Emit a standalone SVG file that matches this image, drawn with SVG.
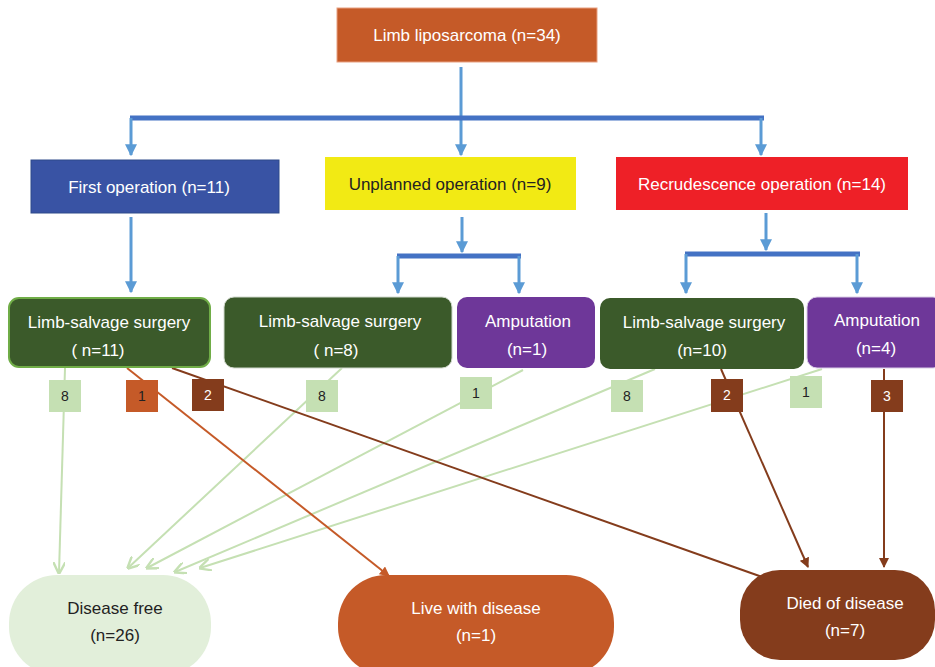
<svg xmlns="http://www.w3.org/2000/svg" width="935" height="667" viewBox="0 0 935 667">
<style>
text{font-family:"Liberation Sans",Arial,sans-serif;font-size:17px;text-anchor:middle}
.w{fill:#fff}.d{fill:#222}
.n{font-size:14px}
.blue{stroke:#5B9BD5;stroke-width:3;fill:none}
.bar{stroke:#4472C4;stroke-width:5;fill:none}
.g{stroke:#C5E0B3;stroke-width:2;fill:none}
.o{stroke:#C55A28;stroke-width:2;fill:none}
.b{stroke:#843C1C;stroke-width:2;fill:none}
.lg{fill:#C5E0B3}.lo{fill:#C55A28}.lb{fill:#843C1C}
</style>
<defs>
<marker id="ab" viewBox="0 0 10 10" refX="9" refY="5" markerWidth="4" markerHeight="4" orient="auto" markerUnits="strokeWidth"><path d="M0,0L10,5L0,10z" fill="#5B9BD5"/></marker>
<marker id="ag" viewBox="0 0 10 10" refX="9" refY="5" markerWidth="6" markerHeight="6" orient="auto" markerUnits="strokeWidth"><path d="M0,0L10,5L0,10" fill="none" stroke="#C5E0B3" stroke-width="2"/></marker>
<marker id="ao" viewBox="0 0 10 10" refX="9" refY="5" markerWidth="5" markerHeight="5" orient="auto" markerUnits="strokeWidth"><path d="M0,0L10,5L0,10z" fill="#C55A28"/></marker>
<marker id="abr" viewBox="0 0 10 10" refX="9" refY="5" markerWidth="5" markerHeight="5" orient="auto" markerUnits="strokeWidth"><path d="M0,0L10,5L0,10z" fill="#843C1C"/></marker>
</defs>

<g id="connectors">
<line class="blue" x1="461" y1="67" x2="461" y2="155" marker-end="url(#ab)"/>
<line class="bar" x1="130" y1="118" x2="764" y2="118"/>
<line class="blue" x1="131" y1="118" x2="131" y2="155" marker-end="url(#ab)"/>
<line class="blue" x1="761" y1="118" x2="761" y2="155" marker-end="url(#ab)"/>
<line class="blue" x1="131" y1="217" x2="131" y2="292" marker-end="url(#ab)"/>
<line class="blue" x1="462" y1="217" x2="462" y2="252" marker-end="url(#ab)"/>
<line class="bar" x1="397" y1="256" x2="521" y2="256"/>
<line class="blue" x1="398" y1="256" x2="398" y2="293" marker-end="url(#ab)"/>
<line class="blue" x1="519" y1="256" x2="519" y2="293" marker-end="url(#ab)"/>
<line class="blue" x1="766" y1="213" x2="766" y2="250" marker-end="url(#ab)"/>
<line class="bar" x1="685" y1="254" x2="860" y2="254"/>
<line class="blue" x1="686" y1="254" x2="686" y2="293" marker-end="url(#ab)"/>
<line class="blue" x1="857" y1="254" x2="857" y2="293" marker-end="url(#ab)"/>

<line class="g" x1="65" y1="368" x2="59" y2="573" marker-end="url(#ag)"/>
<line class="g" x1="342" y1="368" x2="128" y2="568" marker-end="url(#ag)"/>
<line class="g" x1="523" y1="370" x2="147" y2="568" marker-end="url(#ag)"/>
<line class="g" x1="655" y1="369" x2="175" y2="572" marker-end="url(#ag)"/>
<line class="g" x1="822" y1="369" x2="200" y2="568" marker-end="url(#ag)"/>
<line class="o" x1="127" y1="368" x2="389" y2="576" marker-end="url(#ao)"/>
<line class="b" x1="172" y1="368" x2="765" y2="578"/>
<line class="b" x1="721" y1="369" x2="808" y2="567" marker-end="url(#abr)"/>
<line class="b" x1="884" y1="369" x2="884" y2="567" marker-end="url(#abr)"/>
</g>

<g id="n-root"><rect x="337" y="8" width="260" height="54" fill="#C55A28" stroke="#E8A080" stroke-width="1"/><text class="w" x="467" y="41">Limb liposarcoma (n=34)</text></g>
<g id="n-first"><rect x="31" y="160" width="248" height="53" fill="#3953A4" stroke="#2F4A8A" stroke-width="1"/><text class="w" x="149" y="193">First operation (n=11)</text></g>
<g id="n-unplanned"><rect x="325" y="157" width="251" height="53" fill="#F2EA14"/><text class="d" x="450" y="190">Unplanned operation (n=9)</text></g>
<g id="n-recur"><rect x="616" y="157" width="292" height="53" fill="#EE2027"/><text class="w" x="762" y="190">Recrudescence operation (n=14)</text></g>

<g id="n-lss1"><rect x="9" y="298" width="201" height="69" rx="10" fill="#3B5A2A" stroke="#70AD47" stroke-width="2"/><text class="w" x="109" y="328">Limb-salvage surgery</text><text class="w" x="98" y="356">( n=11)</text></g>
<g id="n-lss2"><rect x="224" y="297" width="228" height="71" rx="10" fill="#3B5A2A" stroke="#D0D8CC" stroke-width="1"/><text class="w" x="340" y="327">Limb-salvage surgery</text><text class="w" x="336" y="356">( n=8)</text></g>
<g id="n-amp1"><rect x="457" y="297" width="138" height="71" rx="10" fill="#6E3799"/><text class="w" x="528" y="327">Amputation</text><text class="w" x="527" y="355">(n=1)</text></g>
<g id="n-lss3"><rect x="600" y="298" width="204" height="71" rx="10" fill="#3B5A2A"/><text class="w" x="704" y="328">Limb-salvage surgery</text><text class="w" x="702" y="356">(n=10)</text></g>
<g id="n-amp2"><rect x="807" y="297" width="136" height="71" rx="10" fill="#6E3799" stroke="#D9CCE6" stroke-width="1"/><text class="w" x="877" y="326">Amputation</text><text class="w" x="876" y="354">(n=4)</text></g>

<g id="labels">
<rect class="lg" x="49" y="380" width="32" height="32"/><text class="d n" x="65" y="401">8</text>
<rect class="lo" x="126" y="380" width="32" height="32"/><text class="d n" x="142" y="401">1</text>
<rect class="lb" x="192" y="379" width="32" height="32"/><text class="w n" x="208" y="400">2</text>
<rect class="lg" x="306" y="380" width="32" height="32"/><text class="d n" x="322" y="401">8</text>
<rect class="lg" x="460" y="377" width="32" height="32"/><text class="d n" x="476" y="398">1</text>
<rect class="lg" x="611" y="380" width="32" height="32"/><text class="d n" x="627" y="401">8</text>
<rect class="lb" x="711" y="379" width="32" height="33"/><text class="w n" x="727" y="400">2</text>
<rect class="lg" x="790" y="376" width="32" height="32"/><text class="d n" x="806" y="397">1</text>
<rect class="lb" x="871" y="380" width="32" height="32"/><text class="w n" x="887" y="401">3</text>
</g>

<g id="n-free"><rect x="9" y="575" width="202" height="100" rx="48" ry="48" fill="#E2EFDA"/><text class="d" x="115" y="614">Disease free</text><text class="d" x="115" y="641">(n=26)</text></g>
<g id="n-live"><rect x="338" y="575" width="276" height="100" rx="48" ry="48" fill="#C55A28"/><text class="w" x="476" y="614">Live with disease</text><text class="w" x="476" y="641">(n=1)</text></g>
<g id="n-died"><rect x="740" y="570" width="195" height="90" rx="40" ry="40" fill="#843C1C"/><text class="w" x="845" y="609">Died of disease</text><text class="w" x="845" y="636">(n=7)</text></g>
</svg>
